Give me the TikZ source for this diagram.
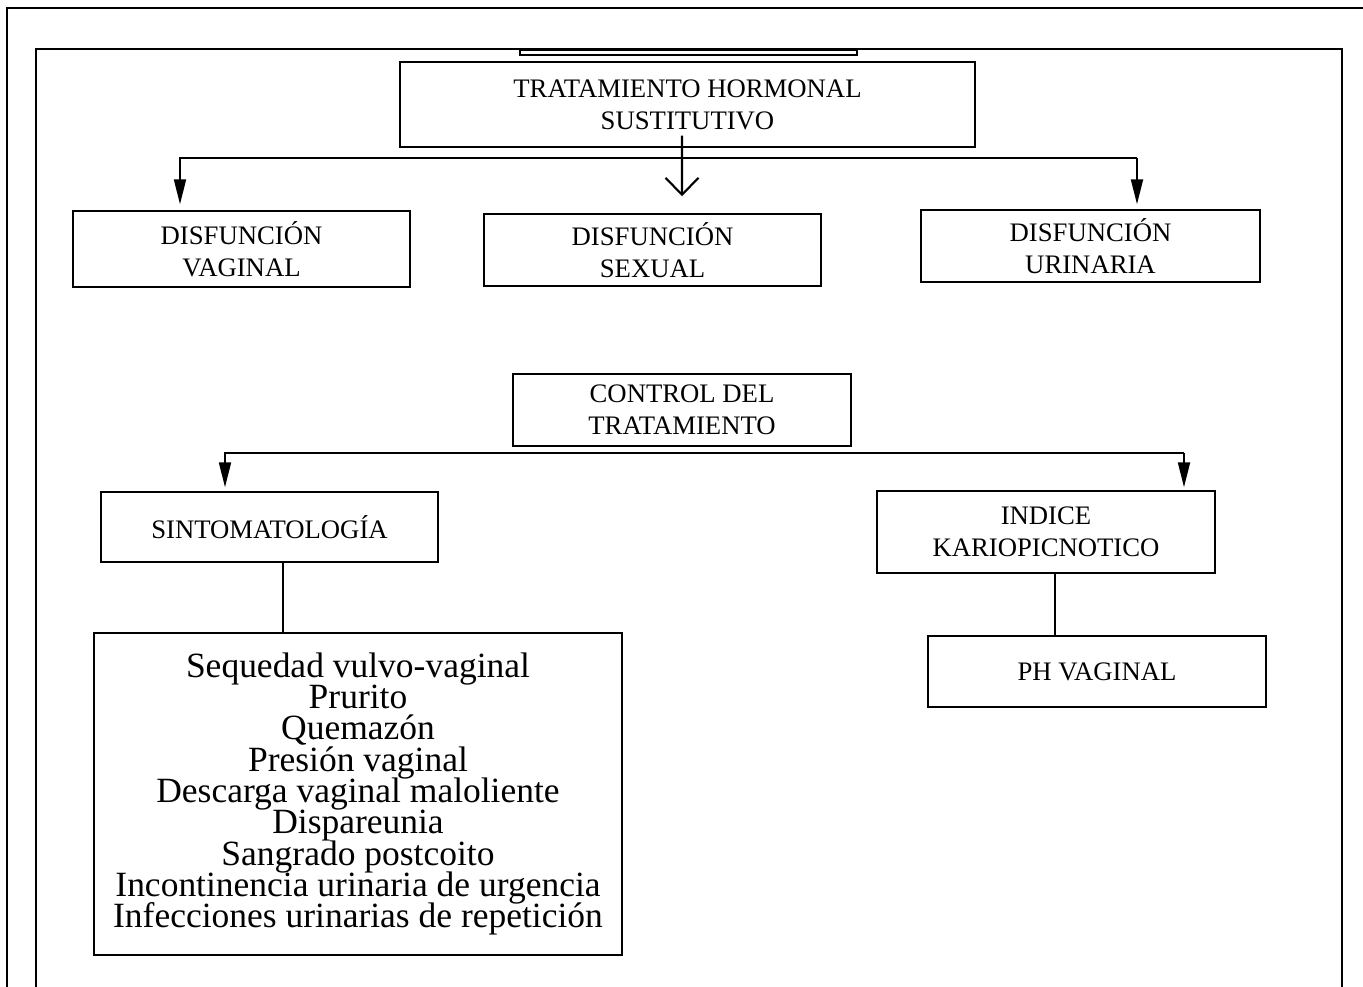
\documentclass[tikz,border=0pt]{standalone}
\usepackage{fontspec}
\setmainfont{Liberation Serif}
\usetikzlibrary{calc,arrows.meta}
\newcommand\apretado{\lineskiplimit=-20pt\relax\lineskip=0pt\relax}
\tikzset{
	caja/.style={draw, line width=0.85pt, rectangle, inner sep=0pt, align=center,
		font=\fontsize{15.2}{18.1}\selectfont},
	lista/.style={caja, font=\fontsize{20.2}{17.8}\selectfont\apretado},
	bus/.style={line width=1.2pt},
	flecha/.style={bus, -{Triangle[length=0.5cm, width=0.24cm]}},
	abierta/.style={bus, -{Straight Barb[length=0.34cm, width=0.66cm, line width=1.2pt]}},
	marco/.style={line width=1.2pt}
}

\begin{document}
\begin{tikzpicture}[x=0.02cm, y=-0.02cm]
			%%%%% START %%%%%
			
			\useasboundingbox (0, 0) rectangle (1363, 987);
			
			\draw[marco] (1363, 8) -- (7, 8) -- (7, 987);
			\draw[marco] (36, 987) -- (36, 49) -- (1342, 49) -- (1342, 987);
			\draw[line width=1pt] (520, 50) rectangle (857, 55);
			
			\node[caja, minimum width=11.5cm, minimum height=1.7cm] (thr) at (687.5, 104.5) {TRATAMIENTO HORMONAL\\SUSTITUTIVO};
			
			\node[caja, minimum width=6.74cm, minimum height=1.52cm] (dv) at (241.5, 249) {DISFUNCIÓN\\VAGINAL};
			\node[caja, minimum width=6.74cm, minimum height=1.44cm] (ds) at (652.5, 250) {DISFUNCIÓN\\SEXUAL};
			\node[caja, minimum width=6.78cm, minimum height=1.44cm] (du) at (1090.5, 246) {DISFUNCIÓN\\URINARIA};
			
			\coordinate (b1) at (180, 158);
			\coordinate (b2) at (1137, 158);
			\draw[flecha, shorten >=6*0.02cm] (b2) -- (b1) -- (b1 |- dv.north);
			\draw[flecha, shorten >=5*0.02cm] (b2) -- (b2 |- du.north);
			\draw[abierta, shorten >=17*0.02cm] ([xshift=-0.11cm, yshift=0.24cm]thr.south) -- ([xshift=0.59cm]ds.north);
			
			\node[caja, minimum width=6.76cm, minimum height=1.44cm] (ctrl) at (682, 410) {CONTROL DEL\\TRATAMIENTO};
			
			\node[caja, minimum width=6.74cm, minimum height=1.4cm] (sint) at (269.5, 527) {SINTOMATOLOGÍA};
			\node[caja, minimum width=6.76cm, minimum height=1.64cm] (ind) at (1046, 532) {INDICE\\KARIOPICNOTICO};
			
			\coordinate (c1) at (225, 453);
			\coordinate (c2) at (1184, 453);
			\draw[flecha, shorten >=4*0.02cm] (c2) -- (c1) -- (c1 |- sint.north);
			\draw[flecha, shorten >=3*0.02cm] (c2) -- (c2 |- ind.north);
			
			\node[lista, minimum width=10.56cm, minimum height=6.44cm] (sint list) at (358, 794) {Sequedad vulvo-vaginal\\Prurito\\Quemazón\\Presión vaginal\\Descarga vaginal maloliente\\Dispareunia\\Sangrado postcoito\\Incontinencia urinaria de urgencia\\Infecciones urinarias de repetición};
			\node[caja, minimum width=6.76cm, minimum height=1.42cm] (ph) at (1097, 671.5) {PH VAGINAL};
			
			\draw[bus] ([xshift=0.27cm]sint.south) -- ([xshift=0.27cm]sint.south |- sint list.north);
			\draw[bus] ([xshift=0.18cm]ind.south) -- ([xshift=0.18cm]ind.south |- ph.north);
			
			%%%%% END %%%%%
		\end{tikzpicture}
\end{document}
